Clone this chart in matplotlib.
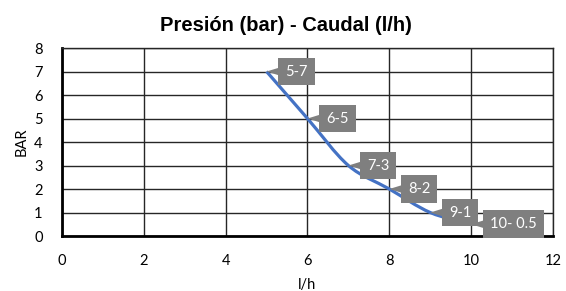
import matplotlib
matplotlib.use("Agg")
import matplotlib.pyplot as plt
from matplotlib.path import Path
from matplotlib.patches import PathPatch

# datos de la curva presion - caudal
caudal = [5, 6, 7, 8, 9, 10]
presion = [7, 5, 3, 2, 1, 0.5]
etiquetas = ["5-7", "6-5", "7-3", "8-2", "9-1", "10- 0.5"]

x_ticks = [0, 2, 4, 6, 8, 10, 12]
y_ticks = [0, 1, 2, 3, 4, 5, 6, 7, 8]

azul = "#4472C4"
gris = "#7F7F7F"


def smooth_path(xs, ys):
    # curva suavizada tipo Excel con segmentos Bezier
    pts = list(zip(xs, ys))
    n = len(pts)
    verts = [pts[0]]
    codes = [Path.MOVETO]
    for i in range(n - 1):
        p0 = pts[i - 1] if i > 0 else pts[i]
        p1 = pts[i]
        p2 = pts[i + 1]
        p3 = pts[i + 2] if i + 2 < n else pts[i + 1]
        c1 = (p1[0] + (p2[0] - p0[0]) / 6, p1[1] + (p2[1] - p0[1]) / 6)
        c2 = (p2[0] - (p3[0] - p1[0]) / 6, p2[1] - (p3[1] - p1[1]) / 6)
        verts += [c1, c2, p2]
        codes += [Path.CURVE4] * 3
    return Path(verts, codes)


fig = plt.figure(figsize=(5.66, 2.91), dpi=100)
ax = fig.add_axes([0.1095, 0.189, 0.8675, 0.646])

ax.set_xlim(0, 12)
ax.set_ylim(0, 8)
ax.set_xticks(x_ticks)
ax.set_yticks(y_ticks)
ax.grid(True, color="#262626", linewidth=1.0)
ax.set_axisbelow(True)
ax.tick_params(length=0, labelsize=10.5, colors="black")
ax.tick_params(axis="x", pad=13)
ax.tick_params(axis="y", pad=14)
for lab in ax.get_xticklabels() + ax.get_yticklabels():
    lab.set_family("Lato")

for s in ["top", "right"]:
    ax.spines[s].set_color("#262626")
    ax.spines[s].set_linewidth(1.0)
for s in ["left", "bottom"]:
    ax.spines[s].set_color("black")
    ax.spines[s].set_linewidth(2.0)

ax.add_patch(PathPatch(smooth_path(caudal, presion), facecolor="none",
                       edgecolor=azul, linewidth=2.3, zorder=3,
                       capstyle="butt"))

for x, y, t in zip(caudal, presion, etiquetas):
    ax.annotate(t, xy=(x, y), xytext=(13.5, 0), textcoords="offset points",
                ha="left", va="center", color="white", fontsize=10.5,
                family="Lato", zorder=5,
                bbox=dict(boxstyle="square,pad=0.47", fc=gris, ec="none"),
                arrowprops=dict(arrowstyle="wedge,tail_width=0.5,shrink_factor=0.5",
                                fc=gris, ec="none", shrinkA=0, shrinkB=0))

ax.set_xlabel("l/h", fontsize=10.5, family="Lato", labelpad=7)
ax.set_ylabel("BAR", fontsize=10.5, family="Lato", labelpad=4)
fig.suptitle("Presión (bar) - Caudal (l/h)", x=0.505, y=0.945,
             fontsize=14.5, fontweight="bold", family="Liberation Sans")

fig.savefig("out.png", dpi=100)
